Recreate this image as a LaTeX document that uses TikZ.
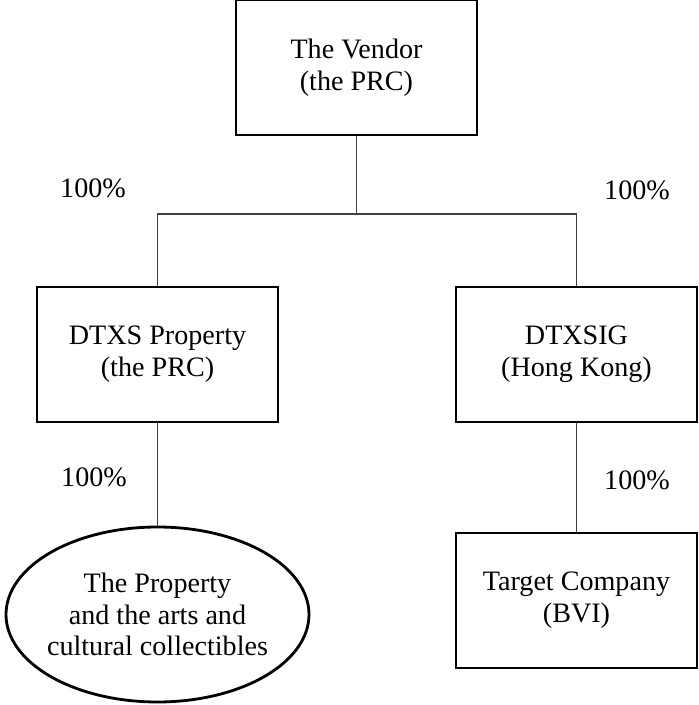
\documentclass[tikz,border=0pt]{standalone}
\usepackage{fontspec}
\setmainfont{Liberation Serif}
\usepackage{tikz}
\usetikzlibrary{shapes.geometric}

\begin{document}
\begin{tikzpicture}[
    every node/.style={font=\fontsize{20}{22.5}\selectfont},
    box/.style={draw, line width=2.1pt, minimum width=6.025cm, minimum height=3.375cm, align=center, inner sep=0pt},
    oval/.style={draw, ellipse, line width=2pt, minimum width=7.575cm, minimum height=4.375cm, align=center, inner xsep=-0.2cm, inner ysep=0pt},
    link/.style={line width=0.9pt, black!75}]
      \useasboundingbox (0,0) rectangle (17.45,17.625);
      \node[box] (vendor) at (8.9125,15.9375) {The Vendor\\(the PRC)};
      \node[box] (dtxs) at (3.9375,8.7625) {DTXS Property\\(the PRC)};
      \node[box] (dtxsig) at (14.4125,8.7625) {DTXSIG\\(Hong Kong)};
      \node[oval] (prop) at (3.9375,2.2625) {The Property\\and the arts and\\cultural collectibles};
      \node[box] (target) at (14.4125,2.6125) {Target Company\\(BVI)};
      \coordinate (bus) at (8.9125,12.275);
      \draw[link] (vendor) -- (bus);
      \draw[link] (dtxs) |- (bus) -| (dtxsig);
      \draw[link] (dtxs) -- (prop);
      \draw[link] (dtxsig) -- (target);
      \node (pa) at (2.325,12.925) {100\%};
      \node (pb) at (15.925,12.875) {100\%};
      \node (pc) at (2.35,5.7) {100\%};
      \node (pd) at (15.925,5.625) {100\%};
    \end{tikzpicture}
\end{document}
